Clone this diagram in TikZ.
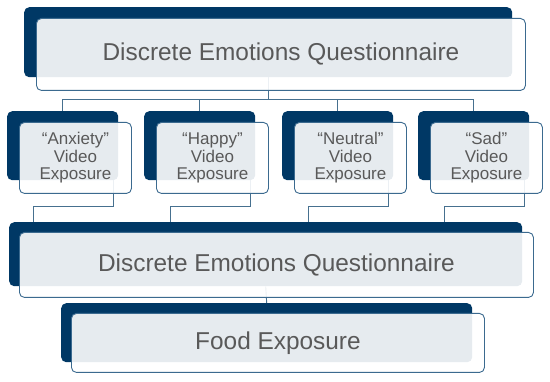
\documentclass[tikz,border=0pt]{standalone}
\usepackage{fontspec}
\setmainfont{Liberation Sans}
\usetikzlibrary{positioning,calc}
\definecolor{navy}{HTML}{003865}
\definecolor{edgeblue}{HTML}{3B6A8F}
\definecolor{connblue}{HTML}{46708F}
\definecolor{txtgray}{HTML}{595959}

\begin{document}
\begin{tikzpicture}[
  x=1pt, y=-1pt,
  back/.style={fill=navy, rounded corners=5pt, inner sep=0pt, anchor=north west},
  front/.style={draw=edgeblue, line width=0.9pt, fill=white, fill opacity=0.9, text opacity=1,
                text=txtgray, rounded corners=5pt, inner sep=0pt, anchor=north west, align=center},
  bigtxt/.style={font=\fontsize{24.4}{26}\selectfont},
  smalltxt/.style={font=\fontsize{17}{17.5}\selectfont},
  conn/.style={draw=connblue, line width=0.9pt}
]
\useasboundingbox (0,0) rectangle (550,382);
% ----- dark back plates -----
\node[back, minimum width=488pt, minimum height=70pt] (dtop) at (24,7) {};
\foreach \n/\x in {anx/7, hap/144, neu/282, sad/418}{
  \node[back, minimum width=111pt, minimum height=69pt] (d\n) at (\x,111) {};}
\node[back, minimum width=513pt, minimum height=64pt] (ddeq) at (9,222) {};
\node[back, minimum width=411pt, minimum height=59pt] (dfood) at (61,303) {};
% ----- connectors (behind the front boxes) -----
\draw[conn] (dtop.south) -- ++(0,22) coordinate (bus);
\foreach \n in {anx, hap, neu, sad}{\draw[conn] (bus) -| (d\n.north);}
\foreach \n in {anx, hap, neu, sad}{
  \path ([xshift=26pt]d\n.south west) coordinate (in\n);
  \draw[conn] ([xshift=-5pt]d\n.south east) -- ++(0,26) -| (in\n |- ddeq.north);}
\draw[conn] (ddeq.south) -- (dfood.north);
% ----- front boxes -----
\node[front, bigtxt, minimum width=489pt, minimum height=72pt] (ftop) at (36,18)
  {Discrete Emotions Questionnaire};
\foreach \n/\x/\t in {anx/19/Anxiety, hap/156/Happy, neu/294/Neutral, sad/430/Sad}{
  \node[front, smalltxt, minimum width=112pt, minimum height=71pt] (f\n) at (\x,122)
    {“\t”\\Video\\Exposure};}
\node[front, bigtxt, minimum width=514pt, minimum height=65pt] (fdeq) at (19,232)
  {Discrete Emotions Questionnaire};
\node[front, bigtxt, minimum width=413pt, minimum height=59pt] (ffood) at (71,313)
  {Food Exposure};
\end{tikzpicture}
\end{document}
